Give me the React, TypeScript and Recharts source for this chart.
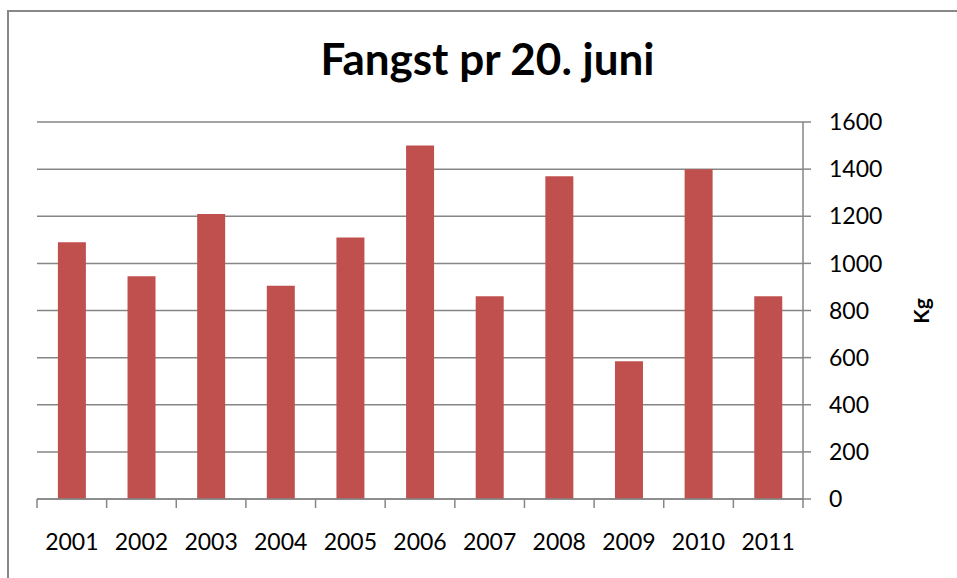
import { BarChart, Bar, XAxis, YAxis, CartesianGrid } from 'recharts';

const years = ['2001', '2002', '2003', '2004', '2005', '2006', '2007', '2008', '2009', '2010', '2011'];
const catchKg = [1090, 945, 1210, 905, 1110, 1500, 860, 1370, 585, 1400, 860];
const yTicks = [0, 200, 400, 600, 800, 1000, 1200, 1400, 1600];

const data = years.map((year, i) => ({ year, kg: catchKg[i] }));

const FONT = 'Lato, "Open Sans", sans-serif';
const GRID = '#868686';

// Excel-style: tick marks sit between the categories, label in the middle
function YearTick(props: any) {
  const { x, y, payload, index, visibleTicksCount } = props;
  const half = payload?.offset ?? 34.8;
  const last = index === (visibleTicksCount ?? years.length) - 1;
  return (
    <g>
      <line x1={x - half} x2={x - half} y1={y} y2={y + 9} stroke={GRID} strokeWidth={1.5} />
      {last && <line x1={x + half} x2={x + half} y1={y} y2={y + 9} stroke={GRID} strokeWidth={1.5} />}
      <text x={x} y={y + 51} textAnchor="middle" fontSize={23} fill="#000" fontFamily={FONT}>
        {payload.value}
      </text>
    </g>
  );
}

export default function App() {
  return (
    <div style={{ position: 'absolute', left: 0, top: 0, width: 957, height: 578, overflow: 'hidden', background: '#fff' }}>
      <div
        style={{
          position: 'absolute',
          left: 7,
          top: 10,
          width: 1000,
          height: 1000,
          borderLeft: '2px solid #888',
          borderTop: '2px solid #888',
        }}
      />
      <div
        style={{
          position: 'absolute',
          left: 0,
          top: 32,
          width: 975,
          textAlign: 'center',
          fontFamily: FONT,
          fontWeight: 700,
          fontSize: 44,
          lineHeight: '52px',
          color: '#000',
        }}
      >
        Fangst pr 20. juni
      </div>
      <div style={{ position: 'absolute', left: 0, top: 0 }}>
        <BarChart
          width={957}
          height={578}
          data={data}
          margin={{ top: 122, left: 37, right: 94, bottom: 0 }}
          barCategoryGap="30%"
        >
          <CartesianGrid horizontal vertical={false} stroke={GRID} strokeWidth={1.5} />
          <XAxis
            dataKey="year"
            height={79}
            axisLine={{ stroke: GRID, strokeWidth: 1.5 }}
            tickLine={false}
            tickSize={0}
            tickMargin={0}
            interval={0}
            tick={<YearTick />}
          />
          <YAxis
            orientation="right"
            width={60}
            domain={[0, 1600]}
            ticks={yTicks}
            interval={0}
            axisLine={{ stroke: GRID, strokeWidth: 1.5 }}
            tickLine={{ stroke: GRID, strokeWidth: 1.5 }}
            tickSize={8}
            tickMargin={18}
            tick={{ fontSize: 23, fill: '#000', fontFamily: FONT }}
          />
          <Bar dataKey="kg" fill="#C0504D" isAnimationActive={false} />
        </BarChart>
      </div>
      <div
        style={{
          position: 'absolute',
          left: 920,
          top: 311,
          transform: 'translate(-50%, -50%) rotate(-90deg)',
          fontFamily: FONT,
          fontWeight: 700,
          fontSize: 21,
          color: '#000',
        }}
      >
        Kg
      </div>
    </div>
  );
}
